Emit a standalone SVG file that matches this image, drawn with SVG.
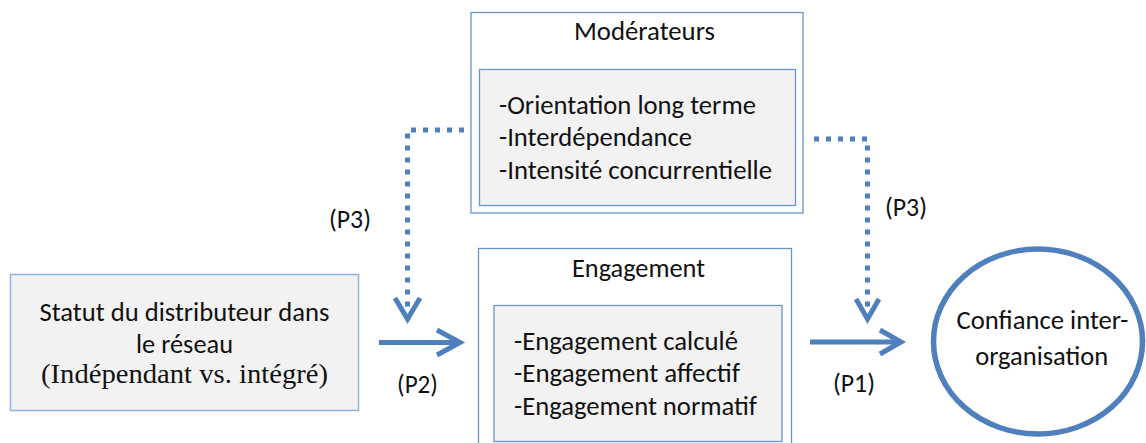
<svg xmlns="http://www.w3.org/2000/svg" width="1146" height="443" viewBox="0 0 1146 443">
<defs>
<style>
.box{fill:#ffffff;stroke:#6a94cb;stroke-width:1.3}
.inner{fill:#f2f2f2;stroke:#6a94cb;stroke-width:1.3}
.lbox{fill:#f2f2f2;stroke:#8eb3e0;stroke-width:1.5}
.t{font-family:"Carlito","Liberation Sans",Arial,sans-serif;font-size:26px;fill:#111111}
.s{font-family:"Liberation Serif","Times New Roman",serif;font-size:27px;fill:#111111}
.c{text-anchor:middle}
.solid{fill:none;stroke:#4f7fbd;stroke-width:5}
.dot{fill:none;stroke:#4f7fbd;stroke-width:5;stroke-dasharray:5 7}
.head{fill:none;stroke:#4f7fbd;stroke-width:5;stroke-linecap:butt;stroke-linejoin:miter}
</style>
</defs>
<rect width="1146" height="443" fill="#ffffff"/>
<g id="statut">
<rect class="lbox" x="10.5" y="274.5" width="348" height="136"/>
<text class="t c" x="184.5" y="321" textLength="290" lengthAdjust="spacingAndGlyphs">Statut du distributeur dans</text>
<text class="t c" x="184.5" y="353" textLength="97" lengthAdjust="spacingAndGlyphs">le réseau</text>
<text class="s c" x="184.5" y="383" textLength="287" lengthAdjust="spacingAndGlyphs">(Indépendant vs. intégré)</text>
</g>
<g id="moderateurs">
<rect class="box" x="471" y="12.5" width="332" height="200.5"/>
<text class="t c" x="644.5" y="40" textLength="141" lengthAdjust="spacingAndGlyphs">Modérateurs</text>
<rect class="inner" x="479.5" y="69.5" width="316" height="136"/>
<text class="t" x="499" y="114" textLength="257" lengthAdjust="spacingAndGlyphs">-Orientation long terme</text>
<text class="t" x="499" y="146" textLength="193" lengthAdjust="spacingAndGlyphs">-Interdépendance</text>
<text class="t" x="499" y="179" textLength="273" lengthAdjust="spacingAndGlyphs">-Intensité concurrentielle</text>
</g>
<g id="engagement">
<rect class="box" x="478.5" y="248.5" width="313" height="210"/>
<text class="t c" x="638.5" y="277" textLength="133" lengthAdjust="spacingAndGlyphs">Engagement</text>
<rect class="inner" x="494" y="305.5" width="288" height="136"/>
<text class="t" x="514" y="350" textLength="224" lengthAdjust="spacingAndGlyphs">-Engagement calculé</text>
<text class="t" x="514" y="382" textLength="226" lengthAdjust="spacingAndGlyphs">-Engagement affectif</text>
<text class="t" x="514" y="415" textLength="243" lengthAdjust="spacingAndGlyphs">-Engagement normatif</text>
</g>
<g id="confiance">
<ellipse cx="1038" cy="341.5" rx="104.5" ry="92.5" fill="#ffffff" stroke="#4f7fbd" stroke-width="5.5"/>
<text class="t c" x="1042.5" y="329" textLength="172" lengthAdjust="spacingAndGlyphs">Confiance inter-</text>
<text class="t c" x="1041.7" y="365" textLength="133" lengthAdjust="spacingAndGlyphs">organisation</text>
</g>
<g id="connectors">
<line class="solid" x1="379" y1="342.5" x2="459" y2="342.5"/>
<polyline class="head" points="437,330 460,342.5 437,355"/>
<line class="solid" x1="810" y1="342" x2="899" y2="342"/>
<polyline class="head" points="880,330 901,342 880,354"/>
<path class="dot" d="M464,130 H407.5 V312"/>
<polyline class="head" points="395,298 407.5,319 420,298"/>
<path class="dot" d="M814,139 H867.5 V312"/>
<polyline class="head" points="856,299 867.5,319 879,299"/>
<text class="t c" x="350" y="228" textLength="42" lengthAdjust="spacingAndGlyphs">(P3)</text>
<text class="t c" x="906" y="216" textLength="42" lengthAdjust="spacingAndGlyphs">(P3)</text>
<text class="t c" x="417.5" y="393" textLength="41" lengthAdjust="spacingAndGlyphs">(P2)</text>
<text class="t c" x="854" y="392" textLength="42" lengthAdjust="spacingAndGlyphs">(P1)</text>
</g>
</svg>
